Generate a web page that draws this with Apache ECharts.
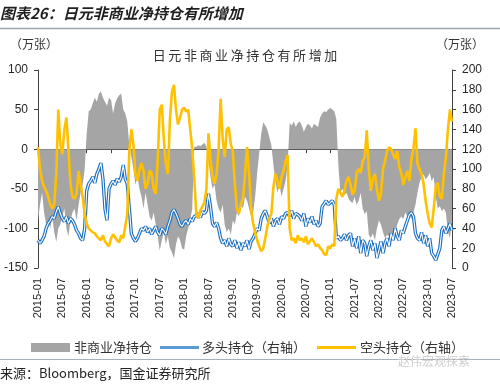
<!DOCTYPE html>
<html><head><meta charset="utf-8">
<script src="https://cdn.jsdelivr.net/npm/echarts@6/dist/echarts.min.js"></script>
<style>html,body{margin:0;padding:0;background:#fff}#c{width:500px;height:384px}</style>
</head><body><div id="c"></div>
<script>
// semimonthly categories 2015-01 .. 2023-07
const categories = [];
for (let y = 2015; y <= 2023; y++) {
  for (let m = 1; m <= 12; m++) {
    const mm = (m < 10 ? '0' : '') + m;
    categories.push(y + '-' + mm + '-01');
    if (y === 2023 && m === 7) break;
    categories.push(y + '-' + mm + '-16');
  }
}
const seriesNames = ['非商业净持仓', '多头持仓（右轴）', '空头持仓（右轴）'];
// 非商业净持仓 (left axis, 万张)
const netPos = [
  -90,-70, -55,-80, -95,-90, -100,-85, -105,-117, -100,-95, -85,-75, -100,-110, -90,-80, -75,-90, -70,-55, -45,-25,
  20,48, 50,58, 65,60, 70,73, 65,60, 55,65, 62,45, 58,64, 68,70, 50,45, 35,5, -10,-25,
  -45,-35, -50,-60, -75,-55, -70,-85, -90,-80, -95,-110, -128,-115, -105,-120, -110,-125, -130,-138, -120,-110, -115,-125,
  -127,-110, -100,-90, -75,3, 3,5, 4,6, 8,3, -15,-35, -50,-45, -65,-75, -80,-70, -95,-105, -100,-108,
  -90,-95, -80,-85, -70,-75, -60,-65, -75,-85, -80,-60, -30,-5, 20,34, 30,25, 15,5, -20,-40, -55,-45,
  -60,-50, -40,-20, 33,30, 35,28, 33,35, 30,22, 28,32, 30,26, 32,30, 28,40, 45,48, 47,50,
  52,50, 48,38, -20,-55, -50,-58, -55,-62, -66,-68, -60,-70, -65,-55, -75,-82, -78,-108, -112,-106, -115,-100,
  -90,-95, -105,-112, -108,-110, -112,-108, -110,-95, -88,-85, -88,-80, -85,-82, -88,-80, -70,-55, -42,-35, -32,-38,
  -35,-30, -40,-35, -60,-75, -72,-78, -75,-80, -105,-112, -90
];
// 多头持仓 (right axis, 万张)
const longPos = [
  28,25, 28,32, 40,45, 48,52, 50,57, 62,55, 50,47, 52,45, 50,48, 44,38, 35,30, 28,40,
  78,85, 88,92, 86,95, 100,106, 90,60, 48,80, 85,88, 84,90, 87,92, 104,90, 85,60, 35,30,
  27,30, 35,40, 38,42, 36,40, 34,38, 42,36, 33,40, 38,34, 42,48, 56,59, 55,50, 44,42,
  46,48, 44,50, 47,52, 53,55, 51,57, 55,58, 75,62, 45,42, 46,40, 30,25, 28,22, 30,24,
  22,28, 20,26, 18,25, 22,28, 19,27, 30,35, 40,38, 50,55, 58,52, 45,50, 42,48, 50,44,
  52,50, 55,56, 52,58, 50,55, 54,52, 48,55, 42,50, 46,52, 44,48, 42,45, 62,65, 68,64,
  66,68, 64,30, 32,28, 30,34, 28,33, 35,22, 30,20, 32,15, 28,25, 12,22, 28,18, 25,10,
  18,27, 15,25, 30,22, 35,28, 40,32, 28,38, 35,42, 48,54, 56,52, 35,30, 28,36, 25,33,
  22,30, 15,12, 8,14, 20,38, 42,35, 40,45, 38
];
// 空头持仓 (right axis, 万张)
const shortPos = [
  122,100, 88,82, 78,72, 65,60, 64,95, 160,125, 115,140, 152,120, 85,72, 70,75, 98,85, 72,55,
  45,40, 38,36, 35,32, 30,28, 33,27, 24,22, 30,34, 31,28, 26,33, 30,42, 55,119, 140,125,
  95,88, 100,106, 98,80, 85,98, 96,80, 75,110, 160,165, 130,105, 95,150, 178,185, 160,145, 152,160,
  162,158, 160,140, 120,90, 55,50, 58,62, 66,80, 136,110, 92,85, 95,120, 171,130, 112,140, 142,125,
  118,85, 60,55, 65,70, 95,122, 95,60, 45,36, 28,22, 17,20, 30,42, 50,55, 82,95, 88,80,
  92,98, 108,114, 40,28, 30,25, 33,28, 30,26, 32,24, 27,30, 26,22, 24,20, 18,14, 13,22,
  20,24, 22,70, 80,76, 72,78, 88,92, 84,74, 78,96, 100,96, 108,112, 139,100, 78,90, 95,80,
  68,75, 100,108, 118,122, 120,115, 110,118, 102,96, 84,92, 98,88, 110,121, 141,105, 100,95, 85,68,
  55,45, 41,60, 82,86, 72,70, 95,112, 140,160, 148
];
const leftTicks = {min: -150, max: 100, interval: 50};
const rightTicks = {min: 0, max: 200, interval: 20};

const chart = echarts.init(document.getElementById('c'), null, {renderer: 'canvas'});
const FONT = '"Noto Sans CJK SC", "Noto Sans", sans-serif';
const NUMFONT = '"Liberation Sans", "Noto Sans", sans-serif';
const LEG_Y = 347.5;
chart.setOption({
  animation: false,
  backgroundColor: '#fff',
  textStyle: {fontFamily: FONT},
  grid: {left: 38, right: 48, top: 70, bottom: 116, containLabel: false},
  graphic: [
    {type: 'text', left: 0, top: 6, style: {text: '图表26：日元非商业净持仓有所增加', fontSize: 15, fontWeight: 'bold', fontStyle: 'italic', fill: '#1f1f1f', fontFamily: FONT}},
    {type: 'line', shape: {x1: 0, y1: 28.5, x2: 500, y2: 28.5}, style: {stroke: '#9aa6b2', lineWidth: 1.5}},
    {type: 'text', left: 10, top: 38, style: {text: '（万张）', fontSize: 12, fill: '#333', fontFamily: FONT}},
    {type: 'text', left: 436, top: 38, style: {text: '（万张）', fontSize: 12, fill: '#333', fontFamily: FONT}},
    {type: 'text', x: 245, y: 55, style: {text: '日\u2009元\u2009非\u2009商\u2009业\u2009净\u2009持\u2009仓\u2009有\u2009所\u2009增\u2009加', fontSize: 13, fill: '#333', fontFamily: FONT, align: 'center', verticalAlign: 'middle'}},
    // legend
    {type: 'rect', shape: {x: 31, y: LEG_Y - 4.5, width: 39, height: 9}, style: {fill: '#A5A5A5'}},
    {type: 'text', x: 74, y: LEG_Y, style: {text: seriesNames[0], fontSize: 13, fill: '#333', fontFamily: FONT, verticalAlign: 'middle'}},
    {type: 'line', shape: {x1: 160, y1: LEG_Y, x2: 199, y2: LEG_Y}, style: {stroke: '#5B9BD5', lineWidth: 3}},
    {type: 'text', x: 202, y: LEG_Y, style: {text: seriesNames[1], fontSize: 13, fill: '#333', fontFamily: FONT, verticalAlign: 'middle'}},
    {type: 'line', shape: {x1: 317, y1: LEG_Y, x2: 356, y2: LEG_Y}, style: {stroke: '#FFC000', lineWidth: 3}},
    {type: 'text', x: 360, y: LEG_Y, style: {text: seriesNames[2], fontSize: 13, fill: '#333', fontFamily: FONT, verticalAlign: 'middle'}},
    {type: 'line', shape: {x1: 0, y1: 359.5, x2: 500, y2: 359.5}, style: {stroke: '#a8b0b8', lineWidth: 1.2}},
    {type: 'text', left: 0, top: 367, style: {text: '来源：Bloomberg，国金证券研究所', fontSize: 13, fill: '#222', fontFamily: FONT}},
    {type: 'text', left: 398, top: 355, style: {text: '赵伟宏观探索', fontSize: 12, fill: '#cfcfcf', fontFamily: FONT}}
  ],
  xAxis: [
    {
      type: 'category', data: categories, boundaryGap: false, position: 'bottom',
      axisLine: {show: false, onZero: false}, axisTick: {show: false},
      axisLabel: {interval: 11, rotate: 90, margin: 10, fontSize: 11, color: '#262626', fontFamily: NUMFONT,
        formatter: v => v.slice(0, 7)}
    },
    {
      type: 'category', data: categories, boundaryGap: false, position: 'top',
      axisLine: {show: true, onZero: true, onZeroAxisIndex: 0, lineStyle: {color: '#404040', width: 1.2}},
      axisTick: {show: true, inside: true, interval: 11, length: 4, lineStyle: {color: '#404040'}},
      axisLabel: {show: false}
    }
  ],
  yAxis: [
    {
      type: 'value', position: 'left', min: leftTicks.min, max: leftTicks.max, interval: leftTicks.interval,
      axisLine: {show: true, onZero: false, lineStyle: {color: '#404040'}},
      axisTick: {show: true, length: 4, lineStyle: {color: '#404040'}},
      splitLine: {show: false},
      axisLabel: {fontSize: 12, color: '#262626', margin: 10, fontFamily: NUMFONT}
    },
    {
      type: 'value', position: 'right', min: rightTicks.min, max: rightTicks.max, interval: rightTicks.interval,
      axisLine: {show: true, onZero: false, lineStyle: {color: '#404040'}},
      axisTick: {show: true, length: 4, lineStyle: {color: '#404040'}},
      splitLine: {show: false},
      axisLabel: {fontSize: 12, color: '#262626', margin: 10, fontFamily: NUMFONT}
    }
  ],
  series: [
    {name: seriesNames[0], type: 'line', xAxisIndex: 0, yAxisIndex: 0, data: netPos, symbol: 'none',
      lineStyle: {width: 0, color: '#A5A5A5'}, itemStyle: {color: '#A5A5A5'},
      areaStyle: {color: '#A5A5A5', opacity: 1, origin: 0}, z: 1},
    {name: seriesNames[1], type: 'line', xAxisIndex: 0, yAxisIndex: 1, data: longPos, symbol: 'none',
      lineStyle: {width: 3.4, color: '#1F70C1'}, itemStyle: {color: '#1F70C1'}, z: 3},
    {name: 'longInner', type: 'line', xAxisIndex: 0, yAxisIndex: 1, data: longPos, symbol: 'none',
      lineStyle: {width: 1.1, color: '#ffffff'}, itemStyle: {color: '#ffffff'}, z: 4, silent: true},
    {name: seriesNames[2], type: 'line', xAxisIndex: 0, yAxisIndex: 1, data: shortPos, symbol: 'none',
      lineStyle: {width: 2.6, color: '#FFC000'}, itemStyle: {color: '#FFC000'}, z: 5}
  ]
});
</script></body></html>
